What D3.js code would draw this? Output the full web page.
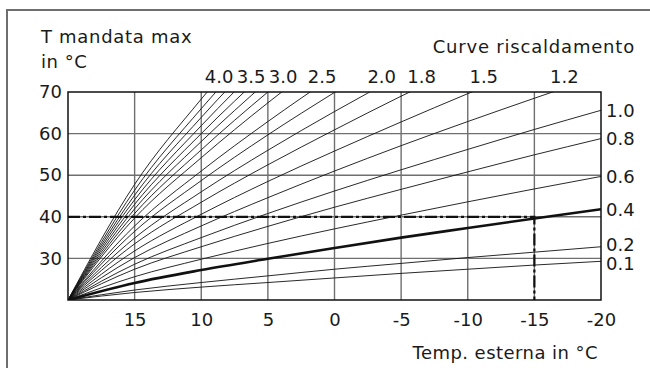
<!DOCTYPE html>
<html>
<head>
<meta charset="utf-8">
<script src="https://cdn.jsdelivr.net/npm/d3@7"></script>
<style>
  html, body { margin: 0; padding: 0; background: #fff; }
  svg { display: block; }
  text { font-family: "DejaVu Sans", "Open Sans", sans-serif; fill: #1a1a1a; }
</style>
</head>
<body>
<svg id="chart" width="650" height="368"></svg>
<script>
// ---- data ----
const outdoorTemps = [20, 15, 10, 5, 0, -5, -10, -15, -20];
const xTickValues = [15, 10, 5, 0, -5, -10, -15, -20];
const yTickValues = [30, 40, 50, 60, 70];

// flow temperature of each heating curve at the outdoor temperatures above
// (steep curves stop after the first point above the 70 °C frame)
const curveNames = ["0.1", "0.2", "0.4", "0.6", "0.8", "1.0", "1.2", "1.5", "1.8", "2.0",
                    "2.2", "2.5", "2.7", "3.0", "3.2", "3.4", "3.5", "3.7", "3.8", "4.0"];
const curveValues = [
  [20, 21.8, 23.1, 24.2, 25.3, 26.4, 27.4, 28.4, 29.3],
  [20, 22.4, 24.2, 25.8, 27.4, 28.8, 30.2, 31.5, 32.8],
  [20, 24.1, 27.2, 29.9, 32.5, 35.0, 37.3, 39.6, 41.8],
  [20, 25.6, 29.8, 33.6, 37.1, 40.4, 43.6, 46.7, 49.7],
  [20, 27.4, 32.8, 37.7, 42.3, 46.6, 50.8, 54.9, 58.8],
  [20, 28.6, 35.0, 40.8, 46.2, 51.3, 56.2, 61.0, 65.6],
  [20, 30.2, 37.8, 44.6, 51.0, 57.1, 62.9, 68.5, 74.0],
  [20, 31.8, 40.6, 48.5, 55.8, 62.8, 69.6, 76.1],
  [20, 33.5, 43.5, 52.5, 60.9, 69.0, 76.6],
  [20, 34.9, 46.0, 56.0, 65.3, 74.1],
  [20, 36.5, 48.7, 59.7, 69.9, 79.7],
  [20, 37.8, 51.0, 62.9, 74.0],
  [20, 39.7, 54.2, 67.4, 79.6],
  [20, 40.8, 56.1, 70.0, 82.9],
  [20, 41.9, 58.1, 72.7],
  [20, 43.0, 60.0, 75.3],
  [20, 44.1, 61.9, 78.0],
  [20, 45.2, 63.9, 80.7],
  [20, 46.4, 66.0, 83.6],
  [20, 47.8, 68.3, 86.8]
];
const thickCurve = "0.4";
const topLabels = ["4.0", "3.5", "3.0", "2.5", "2.0", "1.8", "1.5", "1.2"];
const rightLabels = ["1.0", "0.8", "0.6", "0.4", "0.2", "0.1"];
const operatingPoint = { outdoor: -15, flow: 40 };

const texts = {
  yTitle1: "T mandata max",
  yTitle2: "in °C",
  curvesTitle: "Curve riscaldamento",
  xTitle: "Temp. esterna in °C"
};

// ---- layout ----
const svg = d3.select("#chart");
const plot = { left: 68, right: 601, top: 92, bottom: 300 };
const x = d3.scaleLinear().domain([20, -20]).range([plot.left, plot.right]);
const y = d3.scaleLinear().domain([20, 70]).range([plot.bottom, plot.top]);
const FS = 18;
const FONT = "'DejaVu Sans', sans-serif";

// outer frame (top and left edges only)
svg.append("path")
  .attr("d", `M7,368 L7,10 L650,10`)
  .attr("fill", "none").attr("stroke", "#6e6e6e").attr("stroke-width", 2);

// gridlines
const grid = svg.append("g");
grid.selectAll("line.v").data(xTickValues.slice(0, -1)).join("line")
  .attr("x1", d => x(d)).attr("x2", d => x(d))
  .attr("y1", plot.top).attr("y2", plot.bottom)
  .attr("stroke", "#6f6f6f").attr("stroke-width", 1.4);
grid.selectAll("line.h").data(yTickValues.slice(0, -1)).join("line")
  .attr("x1", plot.left).attr("x2", plot.right)
  .attr("y1", d => y(d)).attr("y2", d => y(d))
  .attr("stroke", "#6f6f6f").attr("stroke-width", 1.4);

// clip for curves
svg.append("defs").append("clipPath").attr("id", "clip")
  .append("rect").attr("x", plot.left).attr("y", plot.top)
  .attr("width", plot.right - plot.left).attr("height", plot.bottom - plot.top);

const line = d3.line()
  .x((d, i) => x(outdoorTemps[i]))
  .y(d => y(d))
  .curve(d3.curveMonotoneX);

const curvesG = svg.append("g").attr("clip-path", "url(#clip)");
const paths = curvesG.selectAll("path").data(curveValues).join("path")
  .attr("d", d => line(d))
  .attr("fill", "none")
  .attr("stroke", "#111")
  .attr("stroke-width", (d, i) => curveNames[i] === thickCurve ? 2.6 : 0.9);

// dash-dot operating line
svg.append("path")
  .attr("d", `M${x(20)},${y(operatingPoint.flow)} L${x(operatingPoint.outdoor)},${y(operatingPoint.flow)} L${x(operatingPoint.outdoor)},${y(20)}`)
  .attr("fill", "none").attr("stroke", "#111").attr("stroke-width", 2.2)
  .attr("stroke-dasharray", "12,3,3,3");

// plot frame
svg.append("rect")
  .attr("x", plot.left).attr("y", plot.top)
  .attr("width", plot.right - plot.left).attr("height", plot.bottom - plot.top)
  .attr("fill", "none").attr("stroke", "#111").attr("stroke-width", 1.5);

// axes
const xAxis = d3.axisBottom(x).tickValues(xTickValues).tickSize(0).tickPadding(13)
  .tickFormat(d => String(d));
const gx = svg.append("g").attr("transform", `translate(0,${plot.bottom})`).call(xAxis);
gx.select(".domain").remove();
gx.selectAll("text").attr("font-size", FS).attr("fill", "#1a1a1a").style("font-family", FONT);

const yAxis = d3.axisLeft(y).tickValues(yTickValues).tickSize(0).tickPadding(6)
  .tickFormat(d => String(d));
const gy = svg.append("g").attr("transform", `translate(${plot.left},0)`).call(yAxis);
gy.select(".domain").remove();
gy.selectAll("text").attr("font-size", FS).attr("fill", "#1a1a1a").style("font-family", FONT);

// titles
svg.append("text").attr("x", 41).attr("y", 43).attr("font-size", FS)
  .attr("letter-spacing", 0.7).text(texts.yTitle1);
svg.append("text").attr("x", 41).attr("y", 68).attr("font-size", FS)
  .attr("letter-spacing", 0.5).text(texts.yTitle2);
svg.append("text").attr("x", 635).attr("y", 53).attr("text-anchor", "end").attr("font-size", FS)
  .attr("letter-spacing", 0.8).text(texts.curvesTitle);
svg.append("text").attr("x", 598).attr("y", 359).attr("text-anchor", "end").attr("font-size", FS)
  .attr("letter-spacing", 0.45).text(texts.xTitle);

// curve labels: top ones where the curve leaves the 70 frame, right ones at curve end
const topPos = [], rightPos = [];
paths.each(function(d, i) {
  const name = curveNames[i];
  if (topLabels.includes(name)) {
    const node = this, len = node.getTotalLength();
    let lo = 0, hi = len;
    for (let k = 0; k < 40; k++) {
      const mid = (lo + hi) / 2;
      if (node.getPointAtLength(mid).y > plot.top) lo = mid; else hi = mid;
    }
    topPos.push({ name, x: node.getPointAtLength(lo).x + 12 });
  } else if (rightLabels.includes(name)) {
    rightPos.push({ name, y: y(d[d.length - 1]) });
  }
});
// keep top labels from touching each other
topPos.sort((a, b) => a.x - b.x);
for (let i = 1; i < topPos.length; i++) {
  const minGap = 32;
  if (topPos[i].x - topPos[i - 1].x < minGap) topPos[i].x = topPos[i - 1].x + minGap;
}
topPos.forEach(p => svg.append("text").attr("x", p.x).attr("y", 83)
  .attr("text-anchor", "middle").attr("font-size", FS).text(p.name));
// spread right labels apart symmetrically when too close
rightPos.sort((a, b) => a.y - b.y);
for (let i = 1; i < rightPos.length; i++) {
  const minGap = 19, gap = rightPos[i].y - rightPos[i - 1].y;
  if (gap < minGap) {
    const shift = (minGap - gap) / 2;
    rightPos[i - 1].y -= shift;
    rightPos[i].y += shift;
  }
}
rightPos.forEach(p => svg.append("text").attr("x", plot.right + 5).attr("y", p.y)
  .attr("dy", "0.36em").attr("font-size", FS).text(p.name));
</script>
</body>
</html>
